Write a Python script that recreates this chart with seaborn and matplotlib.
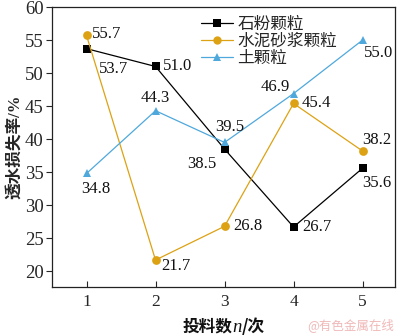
import matplotlib
matplotlib.use("Agg")
import matplotlib.pyplot as plt
from matplotlib.offsetbox import TextArea, HPacker, AnchoredOffsetbox
import seaborn as sns
import pandas as pd

# 投料数
rounds = [1, 2, 3, 4, 5]
series_names = ["石粉颗粒", "水泥砂浆颗粒", "土颗粒"]
stone_powder = [53.7, 51.0, 38.5, 26.7, 35.6]
cement_mortar = [55.7, 21.7, 26.8, 45.4, 38.2]
soil = [34.8, 44.3, 39.5, 46.9, 55.0]
y_ticks = [20, 25, 30, 35, 40, 45, 50, 55, 60]

sns.set_theme(style="ticks")
plt.rcParams["font.family"] = ["Liberation Serif", "Noto Sans CJK SC"]

df = pd.DataFrame({
    "n": rounds * 3,
    "value": stone_powder + cement_mortar + soil,
    "series": [series_names[0]] * 5 + [series_names[1]] * 5 + [series_names[2]] * 5,
})

colors = {"石粉颗粒": "#000000", "水泥砂浆颗粒": "#DDA214", "土颗粒": "#4FA8DC"}
markers = {"石粉颗粒": "s", "水泥砂浆颗粒": "o", "土颗粒": "^"}

fig = plt.figure(figsize=(4.0, 3.35), dpi=100)
ax = fig.add_axes([0.13, 0.143, 0.8575, 0.836])

sns.lineplot(data=df, x="n", y="value", hue="series", style="series",
             palette=colors, markers=markers, dashes=False, ax=ax,
             linewidth=0.9, markersize=6.3, markeredgewidth=0, legend=True)

ax.set_xlim(0.5, 5.47)
ax.set_ylim(17.6, 60)
ax.set_xticks(rounds)
ax.set_yticks(y_ticks)
ax.tick_params(axis="x", direction="in", length=4, width=0.8, labelsize=12.5, pad=5)
ax.tick_params(axis="y", direction="out", length=4, width=0.8, labelsize=13.5, pad=2)
for s in ax.spines.values():
    s.set_linewidth(0.9)
    s.set_color("#222222")

ax.set_xlabel("")
ax.set_ylabel("透水损失率/%", fontsize=12, fontweight="bold", labelpad=1)

# x-axis title with an italic serif "n"
cjk = {"family": ["Noto Sans CJK SC"], "fontsize": 12, "fontweight": "bold", "color": "#111111"}
parts = [
    TextArea("投料数", textprops=cjk),
    TextArea("n", textprops={"family": ["Liberation Serif"], "style": "italic",
                             "fontsize": 13.5, "color": "#111111"}),
    TextArea("/次", textprops=cjk),
]
xlabel_box = HPacker(children=parts, align="baseline", pad=0, sep=0)
anchored = AnchoredOffsetbox(loc="upper center", child=xlabel_box, frameon=False,
                             bbox_to_anchor=(0.5, -0.11), bbox_transform=ax.transAxes,
                             borderpad=0, pad=0)
ax.add_artist(anchored)

# value labels: (dx, dy) in points, horizontal alignment
offsets = {
    "石粉颗粒": [(9, -15, "left"), (5, 0, "left"), (-6, -11, "right"), (6, 0, "left"), (0, -11, "left")],
    "水泥砂浆颗粒": [(4, 1, "left"), (4, -4, "left"), (6, 0, "left"), (6, 0, "left"), (0, 8, "left")],
    "土颗粒": [(7, -11, "center"), (0, 9, "center"), (4, 11, "center"), (-3, 5, "right"), (1, -9, "left")],
}
for name, vals in zip(series_names, [stone_powder, cement_mortar, soil]):
    for x, v, (dx, dy, ha) in zip(rounds, vals, offsets[name]):
        ax.annotate(f"{v:.1f}", (x, v), xytext=(dx, dy), textcoords="offset points",
                    ha=ha, va="center", fontsize=12, color="#111111")

leg = ax.legend(loc="upper left", bbox_to_anchor=(0.405, 1.0), frameon=False,
                fontsize=12, handlelength=1.9, handletextpad=0.3, labelspacing=0.05,
                borderaxespad=0.2)
for h in leg.legend_handles:
    h.set_markersize(6)

fig.text(0.985, 0.01, "@有色金属在线", ha="right", va="bottom", fontsize=9,
         color="#F0B8B8", family=["Noto Sans CJK SC"])

fig.savefig("out.png", dpi=100)
